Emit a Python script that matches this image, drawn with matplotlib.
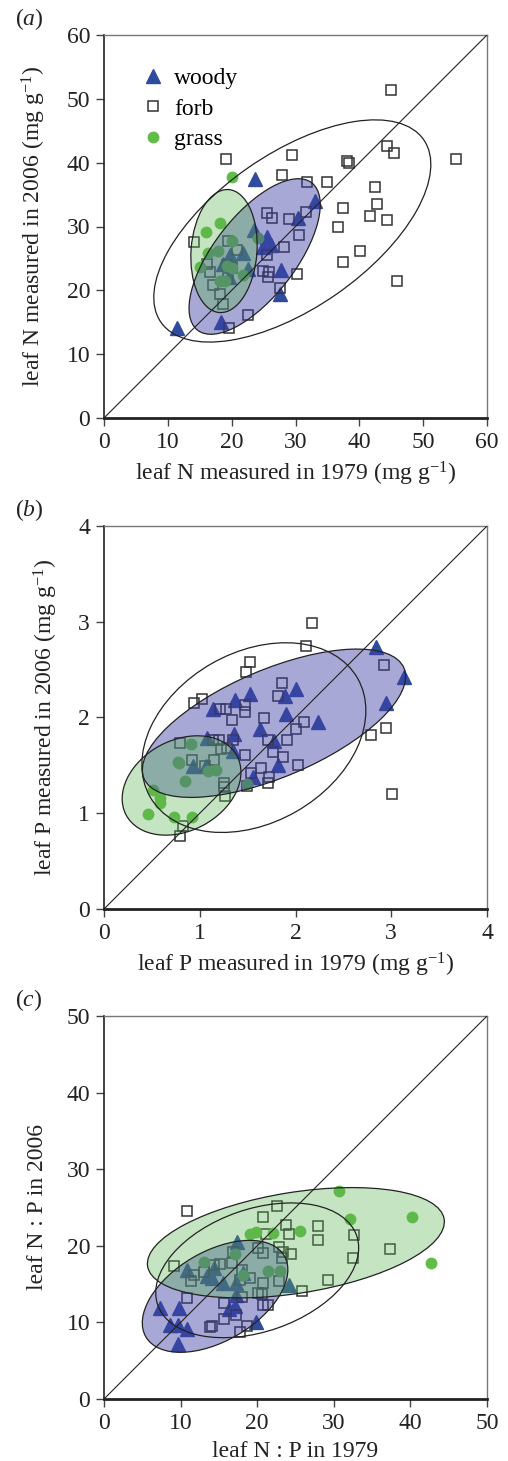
import matplotlib
matplotlib.use("Agg")
import matplotlib.pyplot as plt
from matplotlib.patches import Ellipse
from matplotlib.lines import Line2D

plt.rcParams['font.family'] = ['Liberation Serif', 'DejaVu Serif']
plt.rcParams['mathtext.fontset'] = 'custom'
plt.rcParams['mathtext.rm'] = 'Liberation Serif'
plt.rcParams['mathtext.it'] = 'Liberation Serif:italic'
plt.rcParams['mathtext.default'] = 'regular'

# ---------------- data ----------------
# panel (a): leaf N (mg g-1)
a_woody_x = [11.5, 23.7, 33.0, 30.4, 23.5, 25.5, 26.1, 24.9, 21.8, 19.7, 18.7, 22.5, 27.7, 27.5, 18.4, 19.6]
a_woody_y = [14.1, 37.4, 34.0, 31.3, 29.5, 28.4, 27.1, 26.8, 25.8, 25.5, 24.2, 23.4, 23.2, 19.5, 15.1, 22.1]
a_forb_x = [44.9, 19.1, 29.5, 38.0, 38.4, 44.4, 45.5, 55.1, 27.9, 31.8, 34.9, 42.5, 42.8, 37.5, 41.6,
            44.3, 31.7, 25.5, 26.3, 29.0, 36.7, 30.6, 28.2, 25.5, 40.1, 37.5, 45.9, 30.3, 24.9, 25.9,
            25.7, 27.6, 22.6, 19.6, 14.1, 19.5, 20.8, 16.2, 16.6, 19.2, 20.0, 17.0, 19.4, 18.1, 18.6]
a_forb_y = [51.4, 40.6, 41.2, 40.3, 40.0, 42.6, 41.5, 40.6, 38.0, 37.0, 37.0, 36.2, 33.5, 32.9, 31.7,
            31.0, 32.2, 32.1, 31.4, 31.2, 30.0, 28.7, 26.8, 25.5, 26.2, 24.4, 21.5, 22.6, 23.1, 22.8,
            22.1, 20.4, 16.2, 14.1, 27.6, 27.8, 26.3, 24.2, 22.8, 24.0, 23.5, 20.8, 21.9, 19.5, 17.9]
a_grass_x = [20.1, 18.1, 16.0, 20.0, 24.2, 16.3, 17.8, 15.0, 19.2, 20.0, 21.7, 18.2, 19.0]
a_grass_y = [37.7, 30.5, 29.1, 27.7, 28.2, 25.9, 26.2, 23.7, 23.8, 23.5, 22.4, 21.4, 21.5]

# panel (b): leaf P (mg g-1)
b_woody_x = [2.84, 3.13, 1.52, 2.01, 1.89, 1.37, 1.14, 2.95, 1.90, 2.24, 1.63, 1.36, 1.08, 1.78, 1.35,
             0.93, 1.07, 1.82, 1.56]
b_woody_y = [2.74, 2.42, 2.25, 2.30, 2.22, 2.18, 2.09, 2.15, 2.04, 1.95, 1.88, 1.83, 1.79, 1.75, 1.65,
             1.49, 1.49, 1.50, 1.38]
b_forb_x = [2.17, 2.11, 2.92, 1.52, 1.48, 0.94, 1.02, 1.86, 1.82, 1.21, 1.27, 1.47, 1.47, 1.34, 1.67,
            2.09, 2.01, 1.91, 1.71, 2.79, 2.94, 0.79, 1.20, 1.14, 1.35, 1.22, 1.28, 1.76, 1.47, 1.87,
            0.92, 1.15, 1.06, 2.03, 1.64, 1.54, 1.72, 1.71, 1.49, 1.25, 1.25, 1.26, 3.01, 0.82, 0.79]
b_forb_y = [2.99, 2.75, 2.55, 2.58, 2.47, 2.15, 2.19, 2.36, 2.22, 2.09, 2.09, 2.13, 2.06, 1.97, 1.99,
            1.95, 1.88, 1.77, 1.77, 1.82, 1.89, 1.73, 1.77, 1.76, 1.77, 1.67, 1.68, 1.64, 1.61, 1.59,
            1.56, 1.56, 1.49, 1.50, 1.47, 1.42, 1.38, 1.32, 1.28, 1.32, 1.27, 1.18, 1.20, 0.87, 0.76]
b_grass_x = [0.91, 0.77, 0.78, 0.85, 1.09, 1.17, 1.49, 0.51, 0.59, 0.58, 0.46, 0.73, 0.92]
b_grass_y = [1.72, 1.54, 1.52, 1.34, 1.44, 1.45, 1.31, 1.24, 1.16, 1.11, 0.99, 0.96, 0.96]

# panel (c): leaf N:P
c_woody_x = [24.1, 17.4, 10.9, 13.4, 14.4, 14.1, 15.6, 18.1, 17.2, 17.2, 17.1, 16.3, 7.3, 9.8, 8.6,
             9.7, 10.8, 9.6, 19.8]
c_woody_y = [14.9, 20.5, 16.8, 16.0, 17.1, 15.8, 15.1, 16.5, 15.1, 13.6, 12.1, 11.8, 11.9, 11.9, 9.7,
             9.7, 9.2, 7.2, 10.0]
c_forb_x = [10.8, 22.6, 20.7, 23.8, 28.0, 21.2, 24.1, 27.9, 32.6, 37.3, 32.5, 29.3, 25.8, 22.9, 23.4,
            24.4, 23.2, 20.8, 20.1, 16.9, 16.7, 14.3, 15.1, 9.1, 11.8, 11.4, 13.0, 18.0, 17.7, 19.0,
            20.7, 22.9, 18.0, 20.1, 20.6, 20.7, 21.4, 15.7, 17.2, 15.7, 10.9, 13.8, 14.1, 17.75, 18.7]
c_forb_y = [24.5, 25.2, 23.8, 22.7, 22.6, 21.5, 21.5, 20.8, 21.4, 19.6, 18.4, 15.5, 14.1, 19.9, 19.2,
            18.9, 18.4, 19.1, 19.75, 19.2, 17.7, 17.5, 17.6, 17.3, 16.2, 15.45, 16.6, 16.8, 15.5, 15.75,
            15.1, 15.4, 13.3, 13.8, 13.7, 12.3, 12.3, 12.5, 11.0, 10.4, 13.2, 9.4, 9.5, 8.8, 9.5]
c_grass_x = [30.7, 32.1, 40.2, 42.7, 19.0, 19.8, 22.1, 25.6, 21.45, 23.0, 17.1, 13.0, 18.1]
c_grass_y = [27.1, 23.5, 23.8, 17.7, 21.6, 21.8, 21.7, 21.9, 16.75, 16.75, 18.9, 17.9, 16.2]

# ellipses: centre x, centre y, semi-major, semi-minor, angle (deg)
a_ell_forb = [29.5, 29.3, 25.06, 12.08, 34.8]
a_ell_woody = [23.6, 25.3, 14.6, 6.4, 52.2]
a_ell_grass = [18.8, 26.15, 9.66, 5.16, 85.7]
b_ell_forb = [1.565, 1.79, 1.248, 0.89, 29.8]
b_ell_woody = [1.775, 1.94, 1.475, 0.561, 23.05]
b_ell_grass = [0.81, 1.29, 0.656, 0.473, 28.0]
c_ell_forb = [20.0, 16.8, 13.75, 7.99, 19.2]
c_ell_woody = [14.5, 13.4, 10.47, 5.83, 30.4]
c_ell_grass = [25.05, 20.4, 19.6, 6.59, 9.04]

a_ticks = [0, 10, 20, 30, 40, 50, 60]
b_ticks = [0, 1, 2, 3, 4]
c_ticks = [0, 10, 20, 30, 40, 50]

labels = ["woody", "forb", "grass"]

# ---------------- style ----------------
BLUE = '#2f4b9e'
GREEN = '#62bd48'
PURPLE_FILL = (62/255, 62/255, 166/255)
GREEN_FILL = (90/255, 180/255, 80/255)
FS = 17

fig = plt.figure(figsize=(5.08, 14.61), dpi=100)
W, H = 508, 1461
L = 104 / W
AW = 383 / W
AH = 383 / H
bottoms = [1 - 418 / H, 1 - 909 / H, 1 - 1399 / H]

panels = [
    dict(woody=(a_woody_x, a_woody_y), forb=(a_forb_x, a_forb_y), grass=(a_grass_x, a_grass_y),
         ell=(a_ell_forb, a_ell_woody, a_ell_grass), ticks=a_ticks, tag='a',
         xlabel='leaf N measured in 1979 (mg g$^{-1}$)', ylabel='leaf N measured in 2006 (mg g$^{-1}$)'),
    dict(woody=(b_woody_x, b_woody_y), forb=(b_forb_x, b_forb_y), grass=(b_grass_x, b_grass_y),
         ell=(b_ell_forb, b_ell_woody, b_ell_grass), ticks=b_ticks, tag='b',
         xlabel='leaf P measured in 1979 (mg g$^{-1}$)', ylabel='leaf P measured in 2006 (mg g$^{-1}$)'),
    dict(woody=(c_woody_x, c_woody_y), forb=(c_forb_x, c_forb_y), grass=(c_grass_x, c_grass_y),
         ell=(c_ell_forb, c_ell_woody, c_ell_grass), ticks=c_ticks, tag='c',
         xlabel='leaf N : P in 1979', ylabel='leaf N : P in 2006'),
]

for i, p in enumerate(panels):
    ax = fig.add_axes([L, bottoms[i], AW, AH])
    lim = p['ticks'][-1]
    ax.set_xlim(0, lim)
    ax.set_ylim(0, lim)
    ax.set_xticks(p['ticks'])
    ax.set_yticks(p['ticks'])

    ax.plot(*p['woody'], linestyle='none', marker='^', ms=9.5, color=BLUE, mec=BLUE, zorder=2)
    ax.plot(*p['forb'], linestyle='none', marker='s', ms=7.5, mfc='none', mec='#333333', mew=1.1, zorder=2)
    ax.plot(*p['grass'], linestyle='none', marker='o', ms=7.5, color=GREEN, mec=GREEN, zorder=2)

    ef, ew, eg = p['ell']
    ax.add_patch(Ellipse((ew[0], ew[1]), 2 * ew[2], 2 * ew[3], angle=ew[4], facecolor=PURPLE_FILL,
                         alpha=0.45, edgecolor='none', zorder=3))
    ax.add_patch(Ellipse((ew[0], ew[1]), 2 * ew[2], 2 * ew[3], angle=ew[4], facecolor='none',
                         edgecolor='#222222', lw=0.9, zorder=4))
    ax.add_patch(Ellipse((eg[0], eg[1]), 2 * eg[2], 2 * eg[3], angle=eg[4], facecolor=GREEN_FILL,
                         alpha=0.35, edgecolor='none', zorder=3.5))
    ax.add_patch(Ellipse((eg[0], eg[1]), 2 * eg[2], 2 * eg[3], angle=eg[4], facecolor='none',
                         edgecolor='#222222', lw=0.9, zorder=4))
    ax.add_patch(Ellipse((ef[0], ef[1]), 2 * ef[2], 2 * ef[3], angle=ef[4], facecolor='none',
                         edgecolor='#222222', lw=0.9, zorder=4))

    ax.plot([0, lim], [0, lim], color='#222222', lw=0.8, zorder=4.5)

    for s in ['top', 'right']:
        ax.spines[s].set_color('#777777')
        ax.spines[s].set_linewidth(1.0)
    ax.spines['left'].set_color('#222222')
    ax.spines['left'].set_linewidth(1.2)
    ax.spines['bottom'].set_color('#222222')
    ax.spines['bottom'].set_linewidth(2.0)
    ax.tick_params(direction='out', length=6, width=1.0, color='#444444', labelsize=FS, pad=4,
                   labelcolor='#222222')
    ax.set_xlabel(p['xlabel'], fontsize=FS, color='#222222', labelpad=5)
    ax.set_ylabel(p['ylabel'], fontsize=FS, color='#222222', labelpad=13)
    fig.text(15 / W, bottoms[i] + AH + 10 / H, '($\\mathit{%s}$)' % p['tag'], fontsize=FS,
             color='#222222', ha='left', va='baseline')

    if i == 0:
        handles = [Line2D([], [], linestyle='none', marker='^', ms=9.5, color=BLUE),
                   Line2D([], [], linestyle='none', marker='s', ms=7.5, mfc='none', mec='#333333', mew=1.1),
                   Line2D([], [], linestyle='none', marker='o', ms=7.5, color=GREEN)]
        ax.legend(handles, labels, loc='upper left', bbox_to_anchor=(0.097, 0.915), frameon=False,
                  fontsize=FS, handlelength=1.0, handletextpad=0.4, labelspacing=0.38, borderpad=0,
                  borderaxespad=0)

fig.savefig('out.png', dpi=100)
